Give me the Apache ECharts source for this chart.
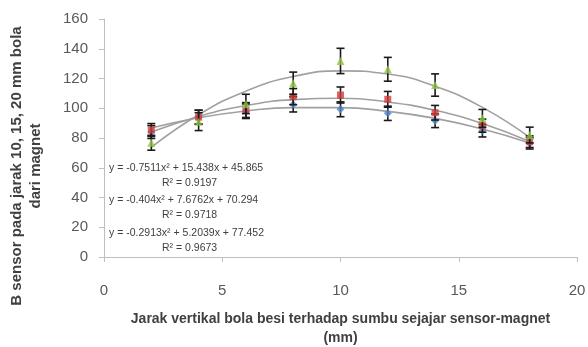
<!DOCTYPE html>
<html>
<head>
<meta charset="utf-8">
<script src="https://cdn.jsdelivr.net/npm/echarts@6/dist/echarts.min.js"></script>
<style>
  html, body { margin: 0; padding: 0; background: #fff; }
  #main { width: 588px; height: 347px; }
</style>
</head>
<body>
<div id="main"></div>
<script>
// x positions (mm)
const xs = [2, 4, 6, 8, 10, 12, 14, 16, 18];

const blueVals = [84, 94, 98, 102.6, 99.3, 96.6, 91.6, 84.9, 76.4];
const redVals = [85.4, 94, 98.8, 107.8, 108.9, 106, 97, 88.3, 77.5];
const greenVals = [76.8, 91, 102.9, 116.8, 131.8, 126.2, 115.6, 93.2, 82];

// error bar half-lengths
const blueErr = [4.3, 4.7, 4.9, 5.1, 5, 4.8, 4.6, 4.2, 3.8];
const redErr = [4.3, 4.7, 5, 5.4, 5.4, 5.3, 4.9, 4.4, 3.9];
const greenErr = [5, 6, 6.5, 7.5, 8.5, 8, 7.5, 6, 5.3];

// trendline heights
const blueTrend = [86.7, 93.6, 98.2, 100.4, 100.4, 97.9, 93.2, 86.1, 76.7];
const redTrend = [84.0, 94.5, 101.8, 105.8, 106.7, 104.2, 98.6, 89.7, 77.6];
const greenTrend = [73.7, 95.6, 111.5, 121.3, 125.1, 123.0, 114.8, 100.6, 80.4];

// trendline equations
const eqLines = [
  ['y = -0.7511x² + 15.438x + 45.865', 'R² = 0.9197'],
  ['y = -0.404x² + 7.6762x + 70.294', 'R² = 0.9718'],
  ['y = -0.2913x² + 5.2039x + 77.452', 'R² = 0.9673']
];

const xTicks = [0, 5, 10, 15, 20];
const yTicks = [0, 20, 40, 60, 80, 100, 120, 140, 160];

const font = 'Liberation Sans';
const txt = '#404040';

const pairs = (vals) => xs.map((x, i) => [x, vals[i]]);

function errSeries(vals, errs, z) {
  return {
    type: 'custom',
    z: z,
    silent: true,
    data: xs.map((x, i) => [x, vals[i] - errs[i], vals[i] + errs[i]]),
    renderItem: (params, api) => {
      const lo = api.coord([api.value(0), api.value(1)]);
      const hi = api.coord([api.value(0), api.value(2)]);
      const w = 4;
      const st = { stroke: '#1a1a1a', lineWidth: 1.6 };
      return {
        type: 'group',
        children: [
          { type: 'line', shape: { x1: lo[0], y1: lo[1], x2: hi[0], y2: hi[1] }, style: st },
          { type: 'line', shape: { x1: lo[0] - w, y1: lo[1], x2: lo[0] + w, y2: lo[1] }, style: st },
          { type: 'line', shape: { x1: hi[0] - w, y1: hi[1], x2: hi[0] + w, y2: hi[1] }, style: st }
        ]
      };
    }
  };
}

function trendSeries(vals) {
  return {
    type: 'line',
    data: pairs(vals),
    smooth: 0.5,
    showSymbol: false,
    silent: true,
    z: 1,
    lineStyle: { color: '#a0a0a0', width: 1.6 }
  };
}

function markSeries(vals, color, symbol, size, z) {
  return {
    type: 'scatter',
    data: pairs(vals),
    symbol: symbol,
    symbolSize: size,
    z: z,
    itemStyle: { color: color }
  };
}

const eqTop = [163, 195, 228];
const graphics = [];
eqLines.forEach((l, i) => {
  graphics.push({
    type: 'text', left: 109, top: eqTop[i],
    style: { text: l[0], fill: txt, font: '10.5px ' + font }
  });
  graphics.push({
    type: 'text', left: 162, top: eqTop[i] + 15,
    style: { text: l[1], fill: txt, font: '10.5px ' + font }
  });
});
graphics.push({
  type: 'text', x: 26, y: 166, rotation: Math.PI / 2,
  style: {
    text: 'B sensor pada jarak 10, 15, 20 mm bola\ndari magnet',
    fill: txt, font: 'bold 15px ' + font, align: 'center', verticalAlign: 'middle',
    lineHeight: 19
  }
});

const chart = echarts.init(document.getElementById('main'));
chart.setOption({
  animation: false,
  backgroundColor: '#fff',
  grid: { left: 104, right: 11, top: 19, bottom: 90, containLabel: false, outerBoundsMode: 'none' },
  xAxis: {
    type: 'value', min: 0, max: 20, interval: 5,
    name: 'Jarak vertikal bola besi terhadap sumbu sejajar sensor-magnet\n(mm)',
    nameLocation: 'middle', nameGap: 53,
    nameTextStyle: { color: txt, fontFamily: font, fontWeight: 'bold', fontSize: 14, lineHeight: 19 },
    axisLine: { lineStyle: { color: '#bfbfbf', width: 1 } },
    axisTick: { show: true, length: 5, lineStyle: { color: '#bfbfbf' } },
    axisLabel: { color: '#595959', fontFamily: font, fontSize: 15, margin: 26,
      formatter: (v) => xTicks.includes(v) ? String(v) : '' },
    splitLine: { show: false }
  },
  yAxis: {
    type: 'value', min: 0, max: 160, interval: 20,
    axisLine: { show: true, lineStyle: { color: '#bfbfbf', width: 1 } },
    axisTick: { show: true, length: 5, lineStyle: { color: '#bfbfbf' } },
    axisLabel: { color: '#595959', fontFamily: font, fontSize: 15, margin: 16,
      formatter: (v) => yTicks.includes(v) ? String(v) : '' },
    splitLine: { show: false }
  },
  graphic: graphics,
  series: [
    trendSeries(blueTrend),
    trendSeries(redTrend),
    trendSeries(greenTrend),
    errSeries(blueVals, blueErr, 3),
    markSeries(blueVals, '#4a86c8', 'diamond', 8, 4),
    errSeries(redVals, redErr, 5),
    markSeries(redVals, '#d23c3c', 'rect', 7, 6),
    errSeries(greenVals, greenErr, 7),
    markSeries(greenVals, '#8fc43e', 'triangle', 8, 8)
  ]
});
</script>
</body>
</html>
